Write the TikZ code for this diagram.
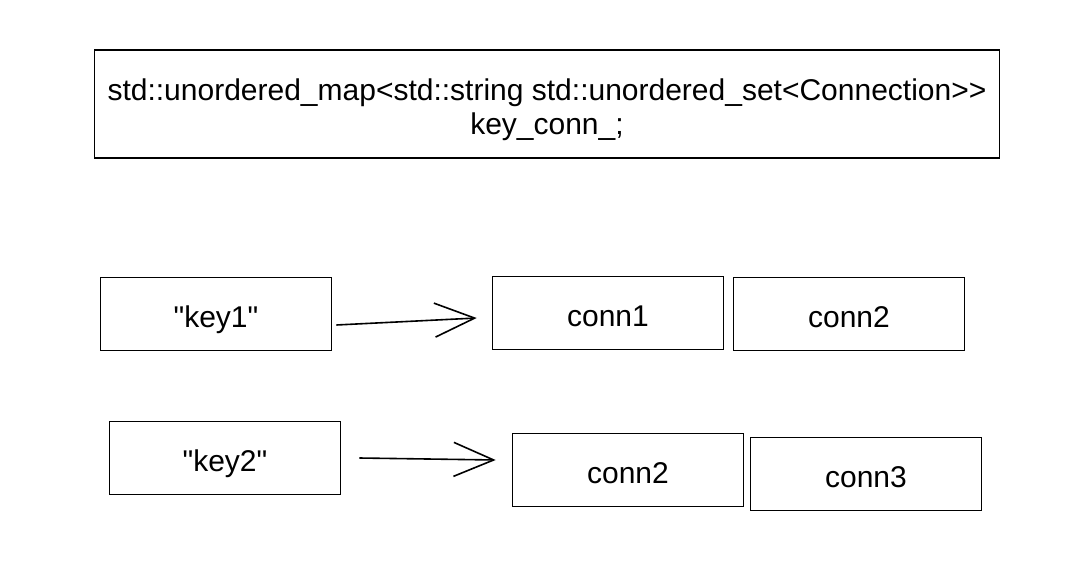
\documentclass[tikz,border=0pt]{standalone}
\usepackage{fontspec}
\setmainfont{Liberation Sans}
\usetikzlibrary{arrows.meta}

\begin{document}
\begin{tikzpicture}[x=1pt, y=-1pt, >={Straight Barb[length=40pt,width=34pt]},
    cell/.style={draw, line width=1.6pt, inner sep=0pt, minimum width=231pt,
        minimum height=73pt, text height=27pt, text depth=0pt,
        font=\fontsize{30}{34}\selectfont},
    link/.style={->, line width=1.6pt}]
    \useasboundingbox (0,0) rectangle (1080,570);
    % Declaration
    \node [draw, line width=1.6pt, minimum width=905pt, minimum height=108pt,
        label={[font=\fontsize{30}{34}\selectfont, align=center, yshift=-6pt]center:
        std::unordered\_map<std::string std::unordered\_set<Connection>{}>\\key\_conn\_;}]
        (decl) at (547,104) {};
    % First key
    \node [cell] (key1) at (216,314) {\textquotedbl key1\textquotedbl};
    \node [cell] (conn1) at (608,313) {conn1};
    \node [cell] (conn2) at (849,314) {conn2};
    \draw [link] ([xshift=4pt, yshift=-11pt]key1.east) -- ([xshift=-15pt, yshift=-5pt]conn1.west);
    % Second key
    \node [cell] (key2) at (225,458) {\textquotedbl key2\textquotedbl};
    \node [cell] (conn2b) at (628,470) {conn2};
    \node [cell] (conn3) at (866,474) {conn3};
    \draw [link] ([xshift=18pt]key2.east) -- ([xshift=-16pt, yshift=10pt]conn2b.west);
\end{tikzpicture}
\end{document}
